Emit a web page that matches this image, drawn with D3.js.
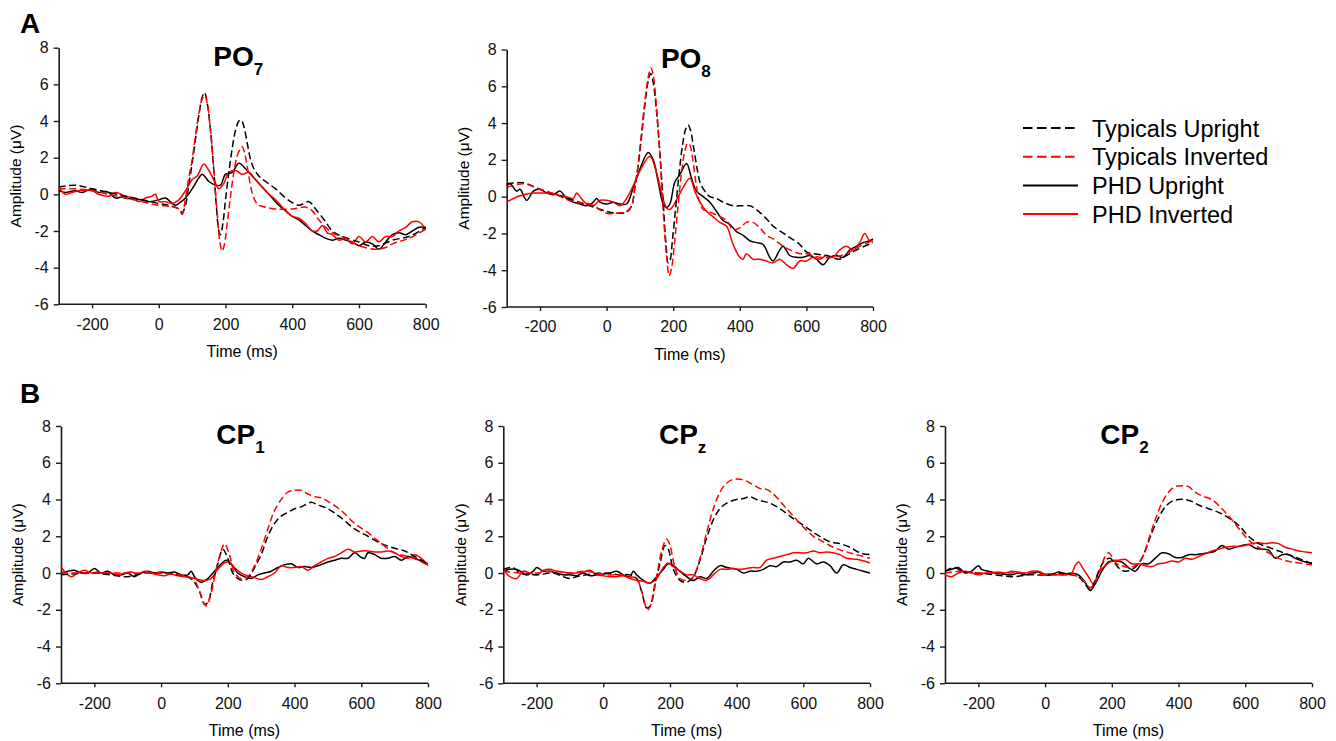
<!DOCTYPE html>
<html>
<head>
<meta charset="utf-8">
<script src="https://cdn.jsdelivr.net/npm/d3@7"></script>
<style>
  body { margin: 0; background: #fff; }
  svg { font-family: "Liberation Sans", Arial, sans-serif; }
</style>
</head>
<body>
<svg id="chart" width="1336" height="741"></svg>
<script>
// axis ticks shared by all panels
const xTicks = [-200, 0, 200, 400, 600, 800];
const yTicks = [-6, -4, -2, 0, 2, 4, 6, 8];
const legendNames = ["Typicals Upright", "Typicals Inverted", "PHD Upright", "PHD Inverted"];

// PO7 : [time ms, amplitude uV]
const po7TypUp = [[-300,0.4],[-250,0.5],[-200,0.3],[-150,0.1],[-100,-0.1],[-50,-0.3],[0,-0.5],[30,-0.6],[60,-0.8],[70,-1.0],[80,-0.6],[90,0.5],[100,1.7],[110,3.0],[120,4.3],[130,5.3],[137,5.55],[145,5.0],[155,3.5],[165,1.3],[172,-0.5],[180,-2.0],[185,-2.2],[192,-1.6],[200,-0.3],[210,1.2],[220,2.5],[230,3.5],[240,4.0],[247,4.05],[255,3.7],[265,2.8],[275,1.9],[285,1.4],[300,1.0],[320,0.7],[350,0.3],[380,-0.2],[400,-0.45],[420,-0.6],[450,-0.4],[470,-0.8],[500,-1.5],[520,-2.0],[550,-2.3],[600,-2.6],[630,-2.8],[660,-2.8],[700,-2.5],[750,-2.3],[800,-1.8]];
const po7TypInv = [[-300,0.3],[-250,0.3],[-200,0.2],[-150,0.0],[-100,-0.2],[-50,-0.4],[0,-0.6],[30,-0.65],[60,-0.8],[70,-1.1],[80,-0.2],[90,0.9],[100,1.9],[110,3.2],[120,4.4],[130,5.2],[138,5.4],[145,5.0],[155,3.5],[165,1.3],[175,-1.0],[183,-2.6],[190,-3.1],[197,-2.7],[205,-1.6],[215,-0.1],[225,1.2],[235,2.1],[245,2.5],[250,2.6],[258,2.2],[268,1.2],[278,0.2],[290,-0.4],[300,-0.6],[320,-0.7],[350,-0.8],[400,-0.8],[440,-0.7],[460,-0.9],[480,-1.4],[500,-1.8],[520,-2.1],[560,-2.4],[600,-2.8],[650,-3.0],[680,-2.9],[700,-2.7],[750,-2.4],[800,-1.9]];
const po7PhdUp = [[-300,0.2],[-280,0.1],[-250,0.2],[-230,0.1],[-200,0.3],[-180,0.1],[-160,0.15],[-150,0.1],[-130,-0.2],[-110,-0.15],[-100,-0.2],[-80,-0.25],[-50,-0.3],[-30,-0.4],[0,-0.3],[20,-0.2],[40,-0.5],[50,-0.6],[60,-0.5],[80,-0.2],[100,0.3],[120,0.9],[130,1.1],[150,0.7],[170,0.5],[185,0.5],[200,1.1],[220,1.2],[240,1.7],[260,1.4],[280,1.0],[300,0.6],[320,0.2],[340,-0.2],[360,-0.6],[380,-0.9],[400,-1.2],[420,-1.4],[440,-1.7],[460,-2.0],[480,-2.2],[500,-2.4],[520,-2.5],[540,-2.4],[560,-2.5],[580,-2.6],[600,-2.8],[620,-2.6],[640,-2.7],[660,-3.0],[680,-2.6],[700,-2.2],[720,-2.1],[740,-2.2],[760,-2.0],[780,-1.8],[800,-1.8]];
const po7PhdInv = [[-300,0.4],[-280,0.0],[-260,0.1],[-240,0.2],[-200,0.2],[-180,0.0],[-150,-0.1],[-130,0.1],[-100,-0.1],[-80,-0.2],[-60,-0.4],[-40,-0.2],[-20,-0.1],[-10,0.0],[0,-0.4],[20,-0.4],[40,-0.5],[60,-0.3],[80,0.2],[100,0.8],[115,1.0],[135,1.65],[150,1.3],[170,0.6],[180,0.3],[195,0.6],[210,1.2],[230,1.3],[250,1.1],[270,1.2],[290,0.8],[310,0.4],[330,0.0],[350,-0.3],[380,-0.9],[400,-1.2],[420,-1.3],[440,-1.6],[460,-2.0],[475,-2.0],[490,-1.7],[505,-2.1],[520,-2.2],[540,-2.5],[560,-2.4],[580,-2.7],[600,-2.3],[620,-2.6],[640,-2.3],[660,-2.6],[680,-2.3],[700,-2.3],[720,-2.0],[740,-1.8],[760,-1.5],[780,-1.5],[800,-1.9]];

// PO8
const po8TypUp = [[-300,0.7],[-250,0.75],[-200,0.4],[-150,0.1],[-100,-0.2],[-50,-0.5],[0,-0.8],[30,-0.9],[60,-0.85],[75,-0.5],[85,0.5],[95,1.7],[105,3.3],[115,5.0],[125,6.3],[132,6.7],[140,6.2],[150,4.6],[160,2.4],[170,-0.3],[178,-2.5],[185,-3.6],[190,-3.5],[198,-2.3],[208,-0.5],[218,1.3],[228,2.8],[238,3.7],[245,3.9],[252,3.6],[262,2.6],[272,1.5],[282,0.7],[295,0.3],[310,0.0],[330,-0.1],[350,-0.3],[380,-0.5],[400,-0.5],[430,-0.5],[450,-0.7],[480,-1.2],[500,-1.6],[540,-2.1],[580,-2.6],[600,-3.0],[620,-3.1],[660,-3.2],[700,-3.4],[720,-3.2],[750,-2.9],[800,-2.5]];
const po8TypInv = [[-300,0.5],[-250,0.7],[-200,0.4],[-150,0.1],[-100,-0.3],[-50,-0.4],[0,-0.9],[30,-0.9],[60,-0.8],[75,-0.5],[85,0.5],[95,1.8],[105,3.5],[115,5.2],[125,6.5],[133,7.0],[140,6.6],[150,4.8],[160,2.3],[170,-0.8],[180,-3.2],[188,-4.3],[195,-3.9],[203,-2.7],[213,-0.8],[223,1.0],[233,2.3],[243,2.9],[250,2.8],[258,2.1],[268,0.8],[278,-0.2],[290,-0.7],[305,-0.8],[330,-1.0],[360,-1.3],[380,-1.8],[400,-1.7],[420,-1.4],[440,-1.4],[460,-1.7],[480,-2.1],[500,-2.3],[540,-2.8],[580,-3.1],[600,-3.1],[640,-3.3],[680,-3.3],[720,-3.1],[760,-2.7],[800,-2.4]];
const po8PhdUp = [[-300,0.6],[-290,0.7],[-270,0.3],[-260,0.4],[-240,-0.2],[-220,0.3],[-200,0.4],[-180,0.2],[-160,0.1],[-140,0.3],[-120,-0.1],[-100,-0.3],[-80,-0.4],[-60,-0.5],[-40,-0.3],[-30,-0.1],[-20,-0.3],[0,-0.4],[20,-0.3],[40,-0.4],[60,-0.4],[80,0.5],[100,1.5],[125,2.4],[140,2.0],[155,0.8],[170,-0.4],[180,-0.6],[190,-0.4],[205,0.8],[220,1.2],[240,1.8],[255,1.0],[270,0.3],[290,0.0],[310,-0.3],[330,-0.8],[350,-1.3],[370,-1.5],[390,-1.9],[410,-2.1],[430,-2.4],[450,-2.5],[470,-2.6],[490,-3.3],[500,-3.5],[520,-2.9],[530,-2.7],[550,-3.2],[570,-3.3],[590,-3.3],[610,-3.2],[630,-3.4],[650,-3.7],[670,-3.3],[690,-3.2],[710,-3.3],[730,-2.9],[750,-2.7],[770,-2.5],[790,-2.4],[800,-2.3]];
const po8PhdInv = [[-300,-0.3],[-280,-0.1],[-250,0.1],[-220,0.2],[-200,0.2],[-180,0.2],[-150,0.1],[-120,0.0],[-100,-0.1],[-90,0.2],[-80,0.0],[-60,-0.4],[-40,-0.5],[-20,-0.2],[0,-0.2],[20,-0.3],[40,-0.5],[60,-0.1],[80,0.6],[100,1.4],[130,2.2],[150,1.3],[165,0.2],[180,-0.6],[190,-0.7],[200,-0.5],[215,0.0],[230,0.5],[250,1.0],[265,0.3],[280,-0.3],[300,-0.8],[320,-1.1],[340,-1.4],[360,-1.6],[380,-2.6],[400,-3.3],[410,-3.4],[420,-3.1],[440,-3.4],[460,-3.4],[480,-3.5],[500,-3.6],[520,-3.4],[540,-3.7],[560,-3.9],[580,-3.5],[600,-3.5],[620,-3.3],[640,-3.4],[660,-3.2],[680,-3.3],[700,-2.9],[720,-2.7],[740,-2.9],[760,-2.5],[775,-2.0],[790,-2.4],[800,-2.4]];

// CP1
const cp1TypUp = [[-300,-0.1],[-200,0.0],[-150,-0.1],[-100,-0.2],[-50,0.0],[0,0.0],[50,-0.1],[80,-0.2],[100,-0.5],[115,-1.0],[130,-1.7],[140,-1.6],[155,-0.5],[170,0.5],[185,1.3],[200,0.8],[215,0.0],[230,-0.3],[245,-0.4],[260,-0.3],[280,0.3],[300,1.0],[320,2.0],[340,2.7],[360,3.1],[380,3.3],[400,3.5],[420,3.6],[450,3.85],[470,3.7],[500,3.5],[540,3.0],[580,2.4],[620,2.0],[660,1.6],[700,1.35],[730,1.2],[760,0.9],[800,0.5]];
const cp1TypInv = [[-300,0.0],[-200,0.0],[-100,0.0],[0,0.0],[50,-0.1],[80,-0.2],[100,-0.4],[115,-1.0],[135,-1.8],[150,-1.1],[165,0.2],[180,1.2],[190,1.6],[205,1.0],[220,0.0],[240,-0.3],[260,-0.2],[280,0.4],[300,1.3],[320,2.4],[340,3.4],[360,4.0],[380,4.4],[400,4.5],[420,4.5],[440,4.3],[460,4.15],[480,4.1],[500,3.9],[540,3.4],[580,2.7],[620,2.2],[660,1.6],[700,1.1],[740,0.9],[770,0.7],[800,0.4]];
const cp1PhdUp = [[-300,0.0],[-280,0.1],[-260,0.15],[-240,0.0],[-220,0.0],[-200,0.25],[-180,0.0],[-160,0.1],[-140,-0.1],[-120,-0.1],[-100,0.0],[-80,-0.2],[-60,0.0],[-40,0.1],[-20,0.0],[0,0.05],[20,0.0],[40,0.05],[60,-0.1],[80,-0.1],[90,0.1],[100,-0.2],[110,-0.4],[120,-0.5],[140,-0.3],[160,0.1],[180,0.5],[195,0.7],[210,0.5],[230,0.0],[250,-0.2],[270,-0.3],[290,-0.1],[310,0.0],[330,0.1],[350,0.3],[370,0.45],[390,0.5],[410,0.3],[430,0.35],[450,0.3],[470,0.4],[500,0.6],[520,0.7],[540,0.8],[560,0.8],[580,1.1],[600,0.85],[610,0.8],[620,1.1],[640,1.0],[660,0.8],[680,0.8],[700,0.9],[720,0.7],[740,0.9],[760,0.8],[780,0.65],[800,0.5]];
const cp1PhdInv = [[-300,0.35],[-290,0.1],[-270,-0.2],[-250,0.0],[-230,0.15],[-210,0.0],[-190,0.05],[-170,-0.05],[-150,0.0],[-130,-0.1],[-110,0.0],[-90,0.05],[-70,-0.05],[-50,0.1],[-30,0.0],[-10,-0.1],[10,-0.15],[30,-0.05],[50,-0.15],[70,-0.2],[90,-0.25],[110,-0.35],[130,-0.4],[150,-0.3],[170,0.2],[190,0.55],[200,0.6],[220,0.3],[240,0.0],[260,-0.15],[280,-0.25],[300,-0.35],[320,-0.2],[340,0.0],[360,0.4],[380,0.3],[400,0.3],[420,0.35],[440,0.15],[460,0.4],[480,0.6],[500,0.8],[520,0.9],[540,1.1],[560,1.3],[580,1.15],[600,1.2],[620,1.2],[640,1.15],[660,1.15],[680,1.2],[700,1.1],[720,0.9],[740,0.8],[760,1.0],[780,0.8],[800,0.4]];

// CPz
const cpzTypUp = [[-300,0.2],[-270,0.3],[-250,0.0],[-200,-0.1],[-150,0.0],[-120,-0.2],[-100,-0.3],[-80,-0.2],[-50,-0.1],[0,0.0],[50,-0.1],[80,-0.1],[100,-0.3],[115,-1.0],[130,-1.9],[140,-1.8],[155,-0.6],[170,0.5],[185,1.5],[195,1.3],[210,0.2],[230,-0.4],[250,-0.5],[270,-0.2],[290,0.7],[310,1.9],[330,2.9],[350,3.5],[370,3.8],[400,4.0],[420,4.05],[440,4.15],[460,4.0],[480,3.9],[500,3.8],[530,3.5],[560,3.1],[600,2.6],[640,2.1],[680,1.7],[710,1.6],[740,1.4],[770,1.1],[800,1.0]];
const cpzTypInv = [[-300,0.1],[-250,0.0],[-200,0.0],[-150,0.1],[-100,0.0],[-50,0.1],[0,-0.1],[50,-0.1],[80,-0.2],[100,-0.3],[115,-1.0],[133,-2.0],[145,-1.6],[160,-0.2],[175,1.2],[190,1.85],[200,1.5],[215,0.3],[230,-0.3],[250,-0.4],[270,-0.2],[290,0.8],[310,2.2],[330,3.5],[350,4.4],[370,4.9],[390,5.1],[410,5.1],[430,5.0],[450,4.8],[470,4.6],[490,4.55],[510,4.3],[540,3.7],[570,3.1],[600,2.5],[630,2.0],[660,1.7],[690,1.4],[720,1.2],[760,1.0],[800,0.8]];
const cpzPhdUp = [[-300,0.1],[-280,0.2],[-260,0.2],[-240,0.0],[-230,-0.1],[-210,0.1],[-200,0.3],[-180,0.1],[-160,0.1],[-140,0.0],[-120,-0.1],[-100,-0.1],[-80,-0.15],[-60,0.0],[-40,-0.15],[-20,-0.1],[0,-0.05],[20,0.0],[40,0.1],[60,-0.1],[80,-0.2],[90,0.1],[100,-0.1],[120,-0.4],[140,-0.55],[160,-0.2],[180,0.2],[195,0.5],[210,0.4],[230,0.1],[250,-0.2],[270,-0.4],[290,-0.2],[310,-0.3],[330,0.1],[350,0.4],[370,0.3],[400,0.2],[420,0.0],[440,0.1],[460,0.1],[480,0.2],[500,0.4],[520,0.35],[540,0.6],[560,0.6],[580,0.7],[600,0.5],[615,0.8],[640,0.5],[660,0.6],[680,0.4],[700,0.0],[720,0.45],[740,0.3],[760,0.2],[780,0.1],[800,0.0]];
const cpzPhdInv = [[-300,0.2],[-280,-0.2],[-260,-0.3],[-240,0.1],[-220,0.0],[-200,-0.1],[-180,0.15],[-160,0.2],[-140,0.1],[-120,0.05],[-100,0.0],[-80,0.0],[-60,0.05],[-40,0.15],[-20,-0.1],[0,-0.15],[20,-0.2],[40,-0.2],[60,-0.15],[80,-0.3],[100,-0.4],[120,-0.45],[140,-0.55],[160,-0.3],[180,0.3],[195,0.55],[210,0.35],[230,0.1],[250,-0.1],[270,-0.1],[290,-0.3],[310,-0.4],[330,-0.1],[350,0.2],[370,0.2],[390,0.25],[410,0.2],[430,0.25],[450,0.3],[470,0.3],[490,0.7],[510,0.8],[530,0.9],[550,1.0],[570,1.1],[590,1.1],[610,1.1],[630,1.2],[650,1.1],[670,1.15],[690,1.1],[710,1.0],[730,0.8],[760,0.75],[800,0.55]];

// CP2
const cp2TypUp = [[-300,0.1],[-270,0.3],[-250,0.1],[-200,0.0],[-150,-0.1],[-100,-0.2],[-50,-0.1],[0,-0.1],[50,0.0],[80,-0.1],[100,-0.2],[120,-0.6],[135,-0.9],[150,-0.4],[165,0.3],[180,0.7],[195,0.8],[210,0.5],[225,0.2],[240,0.1],[260,0.2],[280,0.5],[300,1.2],[320,2.2],[340,3.0],[360,3.6],[380,3.9],[400,4.0],[420,4.0],[440,3.9],[460,3.7],[490,3.5],[520,3.3],[550,3.0],[580,2.6],[610,2.0],[640,1.6],[670,1.4],[700,1.2],[730,1.0],[760,0.8],[800,0.5]];
const cp2TypInv = [[-300,0.0],[-250,0.1],[-200,0.0],[-150,0.0],[-100,0.0],[-50,0.0],[0,-0.1],[50,-0.1],[80,-0.1],[100,-0.2],[120,-0.5],[135,-0.8],[150,-0.5],[165,0.2],[180,0.9],[190,1.1],[200,0.9],[215,0.5],[230,0.4],[250,0.3],[270,0.4],[290,0.8],[310,1.8],[330,2.9],[350,3.8],[370,4.4],[390,4.7],[410,4.75],[430,4.7],[450,4.4],[470,4.2],[500,4.0],[530,3.5],[560,2.9],[590,2.2],[610,1.8],[630,1.5],[660,1.2],[700,0.8],[740,0.6],[800,0.45]];
const cp2PhdUp = [[-300,0.1],[-280,0.2],[-260,0.3],[-240,0.0],[-220,0.1],[-200,0.4],[-190,0.2],[-170,0.1],[-150,0.0],[-130,-0.05],[-100,-0.1],[-80,0.0],[-60,-0.1],[-40,0.0],[-20,0.05],[0,-0.1],[20,-0.1],[40,0.05],[60,-0.05],[80,0.0],[100,-0.1],[120,-0.5],[135,-0.95],[150,-0.6],[170,0.1],[190,0.6],[210,0.65],[230,0.6],[250,0.3],[270,0.1],[290,0.5],[310,0.5],[330,0.8],[350,1.1],[370,1.05],[390,0.85],[410,0.85],[430,1.0],[450,1.0],[470,1.05],[490,1.1],[510,1.2],[530,1.5],[550,1.3],[570,1.4],[590,1.5],[610,1.55],[630,1.35],[650,1.3],[670,1.25],[690,0.8],[710,1.0],[730,1.0],[750,0.8],[780,0.6],[800,0.55]];
const cp2PhdInv = [[-300,-0.1],[-280,-0.2],[-260,0.0],[-240,0.1],[-220,0.0],[-200,-0.1],[-180,0.0],[-160,0.0],[-140,0.05],[-120,0.0],[-100,0.1],[-80,0.05],[-60,0.0],[-40,0.1],[-20,0.1],[0,-0.05],[20,-0.05],[40,-0.1],[60,-0.1],[80,0.0],[90,0.4],[100,0.6],[115,0.2],[130,-0.2],[145,-0.6],[160,0.0],[180,0.4],[200,0.65],[220,0.7],[240,0.75],[260,0.5],[280,0.5],[300,0.4],[320,0.35],[340,0.5],[360,0.55],[380,0.65],[400,0.6],[420,0.8],[440,0.75],[460,0.9],[480,1.05],[500,1.2],[520,1.3],[540,1.4],[560,1.45],[580,1.45],[600,1.5],[620,1.6],[640,1.65],[660,1.6],[680,1.65],[700,1.6],[720,1.4],[740,1.3],[760,1.2],[780,1.15],[800,1.1]];

// line styles for the four conditions
const styles = [
  { color: "#000", dash: "7,3.5" },
  { color: "#ff0000", dash: "7,3.5" },
  { color: "#000", dash: null },
  { color: "#ff0000", dash: null }
];

// panel layout: left/right/top/bottom of each plot box
const panels = [
  { name: "PO", sub: "7", left: 58.7, right: 425.7, top: 47.7, bottom: 304.3, series: [po7TypUp, po7TypInv, po7PhdUp, po7PhdInv] },
  { name: "PO", sub: "8", left: 506.7, right: 873, top: 49.5, bottom: 307, series: [po8TypUp, po8TypInv, po8PhdUp, po8PhdInv] },
  { name: "CP", sub: "1", left: 61, right: 428, top: 426, bottom: 683.3, series: [cp1TypUp, cp1TypInv, cp1PhdUp, cp1PhdInv] },
  { name: "CP", sub: "z", left: 503.3, right: 870, top: 426, bottom: 683.3, series: [cpzTypUp, cpzTypInv, cpzPhdUp, cpzPhdInv] },
  { name: "CP", sub: "2", left: 945, right: 1312, top: 426, bottom: 683.3, series: [cp2TypUp, cp2TypInv, cp2PhdUp, cp2PhdInv] }
];

const svg = d3.select("#chart");

panels.forEach((p) => {
  const x = d3.scaleLinear().domain([-300, 800]).range([p.left, p.right]);
  const y = d3.scaleLinear().domain([-6, 8]).range([p.bottom, p.top]);
  const g = svg.append("g");

  // axes (plain hyphen for negatives, like the original)
  const xAxis = g.append("g")
    .attr("transform", `translate(0,${p.bottom})`)
    .call(d3.axisBottom(x).tickValues(xTicks).tickFormat((d) => String(d))
      .tickSize(4).tickSizeOuter(0).tickPadding(10));
  const yAxis = g.append("g")
    .attr("transform", `translate(${p.left},0)`)
    .call(d3.axisLeft(y).tickValues(yTicks).tickFormat((d) => String(d))
      .tickSize(5).tickSizeOuter(0).tickPadding(5));
  [xAxis, yAxis].forEach((a) => {
    a.select(".domain").attr("stroke", "#1a1a1a").attr("stroke-width", 1.6);
    a.selectAll(".tick line").attr("stroke", "#1a1a1a").attr("stroke-width", 1.4);
    a.selectAll(".tick text").attr("font-size", 16).attr("fill", "#111")
      .attr("font-family", "Liberation Sans, Arial, sans-serif");
  });
  // x axis line must span the whole domain
  xAxis.select(".domain").attr("d", `M${p.left},0H${p.right}`);

  // axis titles
  g.append("text")
    .attr("x", (p.left + p.right) / 2)
    .attr("y", p.bottom + 53)
    .attr("text-anchor", "middle")
    .attr("font-size", 16)
    .text("Time (ms)");
  g.append("text")
    .attr("transform", `translate(${p.left - 43},${(p.top + p.bottom) / 2}) rotate(-90)`)
    .attr("dy", "0.35em")
    .attr("text-anchor", "middle")
    .attr("font-size", 15.5)
    .text("Amplitude (μV)");

  // panel title with subscript
  const t = g.append("text")
    .attr("x", (p.left + p.right) / 2 - 4)
    .attr("y", p.top + 18)
    .attr("text-anchor", "middle")
    .attr("font-weight", "bold")
    .attr("font-size", 28);
  t.append("tspan").text(p.name);
  t.append("tspan").attr("font-size", 17).attr("dy", 9).text(p.sub);

  // waveforms
  const line = d3.line()
    .x((d) => x(d[0]))
    .y((d) => y(d[1]))
    .curve(d3.curveCatmullRom.alpha(0.5));
  // draw solid PHD lines first, then dashed typicals on top
  [2, 3, 0, 1].forEach((i) => {
    g.append("path")
      .datum(p.series[i])
      .attr("d", line)
      .attr("fill", "none")
      .attr("stroke", styles[i].color)
      .attr("stroke-width", 1.5)
      .attr("stroke-dasharray", styles[i].dash);
  });
});

// panel letters
svg.append("text").attr("x", 20).attr("y", 33).attr("font-size", 28).attr("font-weight", "bold").text("A");
svg.append("text").attr("x", 20).attr("y", 403).attr("font-size", 28).attr("font-weight", "bold").text("B");

// legend
const legend = svg.append("g");
legendNames.forEach((name, i) => {
  const ly = 128 + i * 28.7;
  legend.append("line")
    .attr("x1", 1023).attr("x2", 1078)
    .attr("y1", ly).attr("y2", ly)
    .attr("stroke", styles[i].color)
    .attr("stroke-width", 2)
    .attr("stroke-dasharray", styles[i].dash ? "9.5,4.5" : null);
  legend.append("text")
    .attr("x", 1092)
    .attr("y", ly + 8.5)
    .attr("font-size", 23.5)
    .text(name);
});
</script>
</body>
</html>
